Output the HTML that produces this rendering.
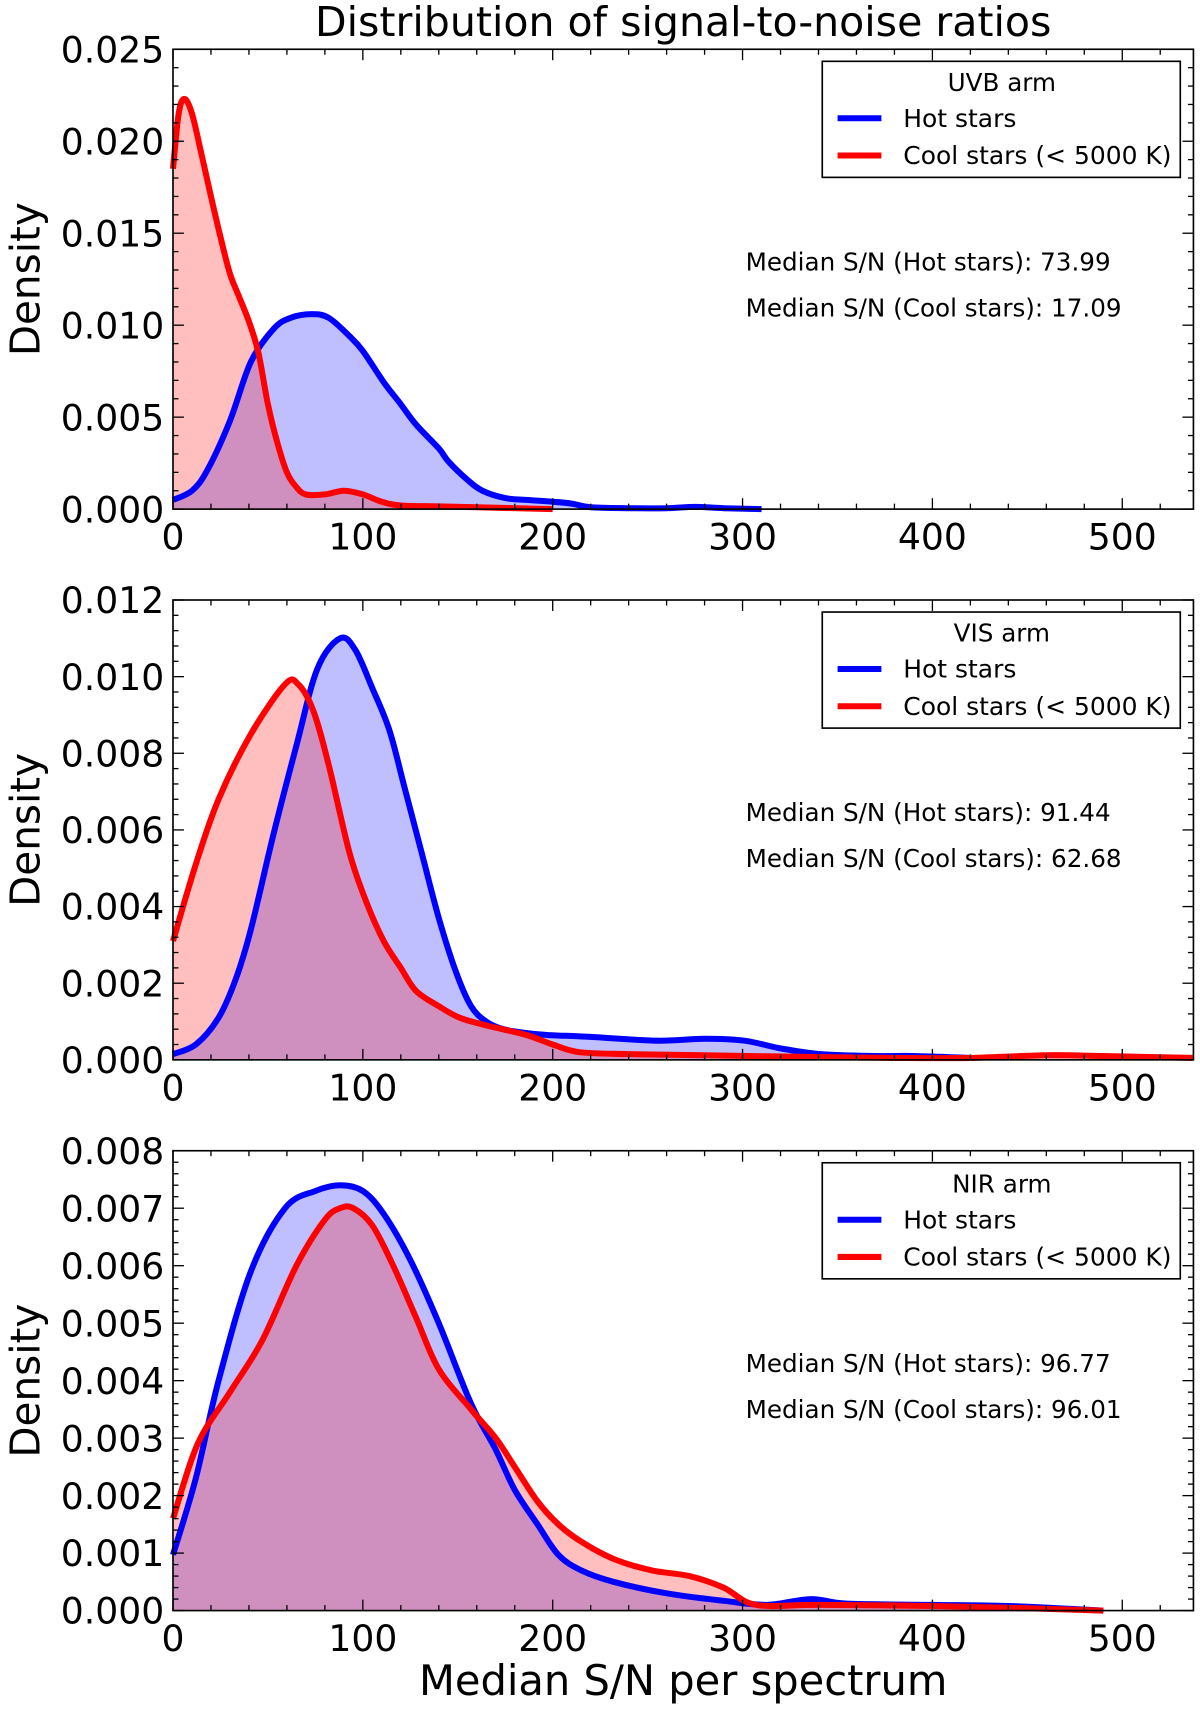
<!DOCTYPE html>
<html><head><meta charset="utf-8"><style>
html,body{margin:0;padding:0;background:#fff}
svg{display:block;font-family:"DejaVu Sans","Liberation Sans",sans-serif}
</style></head><body>
<svg width="1200" height="1717" viewBox="0 0 1200 1717">
<g id="chart" transform="scale(1.09489)">
<text x="624" y="33" font-size="37.5" text-anchor="middle">Distribution of signal-to-noise ratios</text>
<text x="624" y="1548" font-size="38" text-anchor="middle">Median S/N per spectrum</text>
</g>
</svg>
<script>
// ---- data ----
const xTicks = [0,100,200,300,400,500];
const panelNames = ["UVB arm","VIS arm","NIR arm"];
const yMaxes = [0.025,0.012,0.008];
const yTickLabels1 = ["0.000","0.005","0.010","0.015","0.020","0.025"];
const yTickLabels2 = ["0.000","0.002","0.004","0.006","0.008","0.010","0.012"];
const yTickLabels3 = ["0.000","0.001","0.002","0.003","0.004","0.005","0.006","0.007","0.008"];
const medHot = ["73.99","91.44","96.77"];
const medCool = ["17.09","62.68","96.01"];

const uvbHotX = [0,10,18,30,41,53,62,73,82,93,100,111,120,128,140,145,155,163,175,186,200,210,220,240,260,275,290,310];
const uvbHotY = [0.0005,0.001,0.0021,0.0048,0.008,0.0098,0.0104,0.0106,0.0104,0.0094,0.0086,0.0069,0.0057,0.0046,0.0033,0.0026,0.0016,0.0010,0.0006,0.0005,0.0004,0.0003,0.0001,0.00005,0.00005,0.00012,0.00005,0];
const uvbCoolX = [0,3,6,10,15,20,25,30,35,40,45,50,55,60,65,70,80,90,100,110,120,140,160,200];
const uvbCoolY = [0.0185,0.0215,0.0223,0.0215,0.0193,0.017,0.0148,0.0128,0.0115,0.0102,0.0085,0.0057,0.0036,0.0020,0.0012,0.0008,0.0008,0.0010,0.0008,0.0004,0.0002,0.00015,0.0001,0];

const visHotX = [0,12,24,33,41,53,65,76,88,96,105,114,122,131,140,149,157,165,174,186,197,220,255,280,301,320,341,370,390,420];
const visHotY = [0.00015,0.0004,0.0011,0.0021,0.0034,0.0059,0.0082,0.0102,0.011,0.0107,0.0097,0.0086,0.0071,0.0054,0.0037,0.0023,0.0014,0.0010,0.0008,0.0007,0.00065,0.0006,0.0005,0.00055,0.0005,0.0003,0.00015,0.0001,0.0001,0.00005];
const visCoolX = [0,12,24,41,59,66,74,82,93,102,111,120,128,140,151,165,186,200,214,240,280,330,380,420,460,490,537];
const visCoolY = [0.0031,0.0051,0.0068,0.0085,0.0098,0.0098,0.0091,0.0077,0.0054,0.0041,0.0031,0.0024,0.0018,0.0014,0.0011,0.0009,0.00065,0.0004,0.0002,0.00015,0.00012,0.00008,0.00005,0.00005,0.00012,0.0001,0.00005];

const nirHotX = [0,12,24,41,59,75,88,100,111,125,140,157,170,180,192,203,215,232,260,290,313,336,355,400,440,490];
const nirHotY = [0.00097,0.0023,0.004,0.0059,0.007,0.0073,0.0074,0.0073,0.0069,0.0061,0.005,0.0036,0.0028,0.0021,0.0015,0.00097,0.0007,0.0005,0.0003,0.00017,0.0001,0.0002,0.00012,0.0001,0.00008,0];
const nirCoolX = [0,13,30,47,65,80,88,95,105,116,128,140,157,170,180,192,203,215,232,252,272,290,307,340,400,450,490];
const nirCoolY = [0.0016,0.0029,0.0038,0.0047,0.006,0.0068,0.007,0.007,0.0067,0.006,0.0051,0.0042,0.0035,0.003,0.0025,0.0019,0.0015,0.0012,0.0009,0.0007,0.0006,0.0004,0.0001,0.0001,0.00008,0.00004,0];

const panels = [
  {top:45,bottom:465,ymax:yMaxes[0],labels:yTickLabels1,hx:uvbHotX,hy:uvbHotY,cx:uvbCoolX,cy:uvbCoolY},
  {top:548,bottom:968,ymax:yMaxes[1],labels:yTickLabels2,hx:visHotX,hy:visHotY,cx:visCoolX,cy:visCoolY},
  {top:1051,bottom:1471,ymax:yMaxes[2],labels:yTickLabels3,hx:nirHotX,hy:nirHotY,cx:nirCoolX,cy:nirCoolY}
];
const NS="http://www.w3.org/2000/svg";
const svg=document.getElementById('chart');
const L=158,R=1090,XMAX=(1090-158)/1.734;
function mk(tag,attrs,parent){const e=document.createElementNS(NS,tag);for(const k in attrs)e.setAttribute(k,attrs[k]);(parent||svg).appendChild(e);return e;}
function smooth(pts){let d="M"+pts[0][0]+","+pts[0][1];for(let i=0;i<pts.length-1;i++){const p0=pts[Math.max(0,i-1)],p1=pts[i],p2=pts[i+1],p3=pts[Math.min(pts.length-1,i+2)];
 const c1x=p1[0]+(p2[0]-p0[0])/6,c1y=p1[1]+(p2[1]-p0[1])/6,c2x=p2[0]-(p3[0]-p1[0])/6,c2y=p2[1]-(p3[1]-p1[1])/6;
 d+=" C"+c1x+","+c1y+" "+c2x+","+c2y+" "+p2[0]+","+p2[1];}return d;}
panels.forEach((p,pi)=>{
  const g=mk('g',{});
  
  
  const xs=v=>L+(v/XMAX)*(R-L);
  const ys=v=>p.bottom-(v/p.ymax)*(p.bottom-p.top);
  function curve(xa,ya){return smooth(xa.map((x,i)=>[xs(x),Math.min(p.bottom,ys(ya[i]))]));}
  function fill(xa,ya,color,name){
    const d=curve(xa,ya);
    const f=mk('path',{d:d+" L"+xs(xa[xa.length-1])+","+p.bottom+" L"+xs(xa[0])+","+p.bottom+" Z",fill:color,'fill-opacity':0.25,stroke:'none'},g);
    
    
  }
  function line(xa,ya,color,name){
    const l=mk('path',{d:curve(xa,ya),fill:'none',stroke:color,'stroke-width':5.5,'stroke-linejoin':'round'},g);
    
    
  }
  fill(p.hx,p.hy,'#0000ff','hot-stars');
  fill(p.cx,p.cy,'#ff0000','cool-stars');
  line(p.hx,p.hy,'#0000ff','hot-stars');
  line(p.cx,p.cy,'#ff0000','cool-stars');
  const fr=mk('rect',{x:L,y:p.top,width:R-L,height:p.bottom-p.top,fill:'none',stroke:'#000','stroke-width':1.5},g);
  
  
  for(let v=0;v<=XMAX;v+=20){const X=xs(v),len=(v%100===0)?10:5;
    mk('line',{x1:X,x2:X,y1:p.bottom,y2:p.bottom-len,stroke:'#000','stroke-width':1.2},g);
    mk('line',{x1:X,x2:X,y1:p.top,y2:p.top+len,stroke:'#000','stroke-width':1.2},g);}
  xTicks.forEach(v=>{const t=mk('text',{x:xs(v),y:p.bottom+37,'font-size':33,'text-anchor':'middle'},g);t.textContent=v;
    
    });
  const step=parseFloat(p.labels[1]);
  for(let k=0;k<(p.labels.length-1)*5;k++){const Y=ys(k*step/5);if(k%5===0)continue;
    mk('line',{x1:L,x2:L+5,y1:Y,y2:Y,stroke:'#000','stroke-width':1.2},g);
    mk('line',{x1:R,x2:R-5,y1:Y,y2:Y,stroke:'#000','stroke-width':1.2},g);}
  p.labels.forEach(s=>{const v=parseFloat(s),Y=ys(v);
    mk('line',{x1:L,x2:L+10,y1:Y,y2:Y,stroke:'#000','stroke-width':1.2},g);
    mk('line',{x1:R,x2:R-10,y1:Y,y2:Y,stroke:'#000','stroke-width':1.2},g);
    const t=mk('text',{x:150,y:Y+12,'font-size':33,'text-anchor':'end'},g);t.textContent=s;
    
    });
  const yt=mk('text',{x:0,y:0,'font-size':37,'text-anchor':'middle',transform:`translate(36,${(p.top+p.bottom)/2}) rotate(-90)`},g);
  yt.textContent='Density';
  
  
  const lg=mk('g',{},g);
  
  
  const bt=p.top+11;
  mk('rect',{x:751,y:bt,width:327,height:106,fill:'#fff',stroke:'#000','stroke-width':1.5},lg);
  const lt=mk('text',{x:915,y:bt+27,'font-size':22.5,'text-anchor':'middle'},lg);lt.textContent=panelNames[pi];
  [['#0000ff','Hot stars'],['#ff0000','Cool stars (< 5000 K)']].forEach((e,i)=>{
    const yy=bt+60+i*34;
    mk('line',{x1:765,x2:805,y1:yy-8,y2:yy-8,stroke:e[0],'stroke-width':5.5},lg);
    const t=mk('text',{x:825,y:yy,'font-size':22.8},lg);t.textContent=e[1];
    
    });
  const m1=mk('text',{x:681,y:p.top+202,'font-size':22.5},g);m1.textContent='Median S/N (Hot stars): '+medHot[pi];
  
  
  const m2=mk('text',{x:681,y:p.top+244,'font-size':22.5},g);m2.textContent='Median S/N (Cool stars): '+medCool[pi];
  
  
});
</script>
</body></html>
